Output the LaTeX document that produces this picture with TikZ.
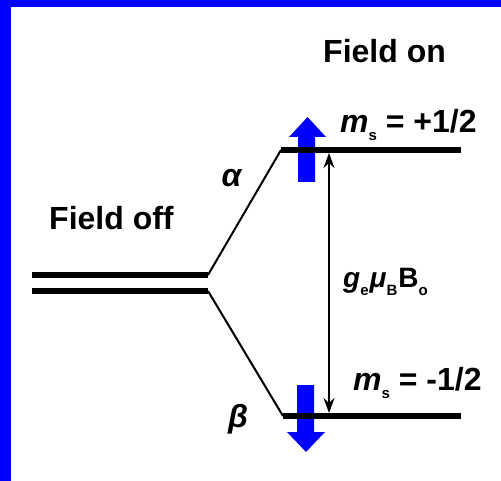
\documentclass[tikz,border=0pt]{standalone}
\usepackage{fontspec}
\setmainfont{Liberation Sans}
\usetikzlibrary{arrows.meta}
\definecolor{spinblu}{RGB}{0,0,255}
\newcommand{\pedice}[1]{\raisebox{-0.25em}{\fontsize{15}{15}\selectfont #1}}

\begin{document}
\begin{tikzpicture}[x=1pt, y=-1pt,
			livello/.style={line width=5.5pt, black},
			raccordo/.style={line width=2pt, black},
			salto/.style={{Stealth[length=15pt,width=11pt]}-{Stealth[length=15pt,width=11pt]},
				line width=1.5pt, black},
			spin/.style={fill=spinblu, draw=none},
			etic/.style={font=\fontsize{32}{36}\selectfont\bfseries, inner sep=0pt}]
			
			\def\W{501}
			\def\H{481}
			
			%% --- fondo e cornice blu ---
			\useasboundingbox (0,0) rectangle (\W,\H);
			\fill[white] (0,0) rectangle (\W,\H);
			\fill[spinblu] (0,0) rectangle (11,\H);
			\fill[spinblu] (0,0) rectangle (\W,7);
			
			%% --- livelli ---
			\coordinate (offA1) at (32,275);
			\coordinate (offA2) at (208,275);
			\coordinate (offB1) at (32,291);
			\coordinate (offB2) at (208,291);
			\coordinate (alfa1) at (281,150);
			\coordinate (alfa2) at (461,150);
			\coordinate (beta1) at (283,416);
			\coordinate (beta2) at (461,416);
			
			%% --- frecce blu degli spin (sotto i livelli) ---
			\fill[spin] (298,182) -- (298,137) -- (289,137) -- (307.5,117)
				-- (326,137) -- (315,137) -- (315,182) -- cycle;
			\fill[spin] (297,385) -- (297,432) -- (287,432) -- (306,452)
				-- (325,432) -- (314,432) -- (314,385) -- cycle;
			
			\draw[livello] (offA1) -- (offA2);
			\draw[livello] (offB1) -- (offB2);
			\draw[livello] (alfa1) -- (alfa2);
			\draw[livello] (beta1) -- (beta2);
			\draw[raccordo] (offA2) -- (alfa1);
			\draw[raccordo] (offB2) -- (beta1);
			
			%% --- separazione Zeeman ---
			\coordinate (saltoA) at (329,153);
			\coordinate (saltoB) at (329,413);
			\draw[salto] (saltoA) -- (saltoB);
			
			%% --- etichette ---
			\node[etic, anchor=base west] (campoOn) at (323,63) {Field on};
			\node[etic, anchor=base west] (campoOff) at (49,230) {Field off};
			\node[etic, anchor=base west] (msSu) at (340,133) {\textit{m}\pedice{s} = +1/2};
			\node[etic, anchor=base west] (msGiu) at (353,390) {\textit{m}\pedice{s} = -1/2};
			\node[etic, font=\fontsize{28}{32}\selectfont\bfseries, anchor=base west] (zeeman)
				at (343,288) {\textit{g}\pedice{e}\kern1pt\textit{μ}\pedice{B}\kern1pt B\pedice{o}};
			\node[etic] (alfa) at (232,178) {\textit{α}};
			\node[etic] (beta) at (238,419) {\textit{β}};
			
		\end{tikzpicture}
\end{document}
